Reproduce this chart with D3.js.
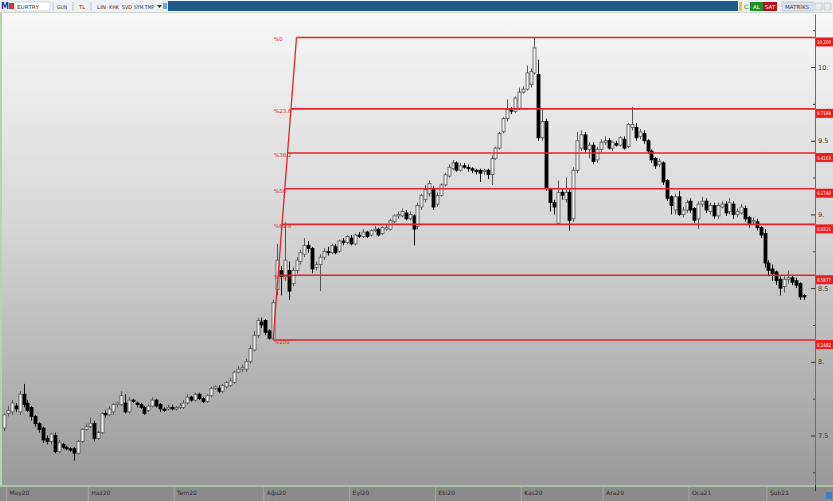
<!DOCTYPE html>
<html><head><meta charset="utf-8">
<script src="https://cdn.jsdelivr.net/npm/d3@7"></script>
<style>html,body{margin:0;padding:0;background:#fff;overflow:hidden}svg{display:block;font-family:"DejaVu Sans",sans-serif}</style>
</head><body><svg id="c" width="833" height="501"></svg>
<script>
const opens=[7.55,7.65,7.66,7.70,7.66,7.78,7.72,7.69,7.63,7.58,
7.55,7.48,7.46,7.50,7.39,7.44,7.42,7.41,7.41,7.38,
7.46,7.54,7.56,7.58,7.48,7.52,7.65,7.64,7.66,7.71,
7.71,7.72,7.66,7.74,7.72,7.71,7.69,7.67,7.70,7.74,
7.71,7.68,7.68,7.69,7.68,7.69,7.69,7.72,7.76,7.74,
7.78,7.75,7.73,7.77,7.82,7.82,7.80,7.83,7.84,7.86,
7.93,7.95,7.95,8.00,8.08,8.18,8.27,8.28,8.21,8.16,
8.49,8.62,8.58,8.62,8.53,8.62,8.68,8.73,8.79,8.77,
8.64,8.66,8.71,8.75,8.74,8.78,8.75,8.82,8.81,8.84,
8.80,8.86,8.85,8.88,8.86,8.89,8.90,8.87,8.90,8.90,
8.95,8.99,8.99,9.01,8.97,8.99,8.92,9.05,9.10,9.14,
9.17,9.07,9.13,9.20,9.26,9.31,9.35,9.30,9.33,9.32,
9.31,9.30,9.30,9.29,9.30,9.27,9.38,9.45,9.56,9.65,
9.71,9.70,9.72,9.83,9.85,9.88,9.96,9.95,9.52,9.63,
9.17,9.08,8.94,9.15,9.10,9.15,8.97,9.30,9.45,9.54,
9.44,9.47,9.37,9.44,9.49,9.50,9.45,9.48,9.47,9.51,
9.46,9.59,9.59,9.53,9.55,9.50,9.43,9.38,9.34,9.35,
9.23,9.12,9.03,9.12,9.00,9.03,9.09,9.04,8.97,9.07,
9.09,9.02,9.06,8.99,9.05,9.07,9.02,9.07,9.00,9.01,
9.04,8.98,8.95,8.95,8.91,8.87,8.67,8.63,8.61,8.56,
8.51,8.56,8.57,8.55,8.53,8.45];
const highs=[7.65,7.70,7.74,7.72,7.80,7.85,7.74,7.70,7.64,7.59,
7.56,7.50,7.52,7.52,7.47,7.45,7.43,7.42,7.42,7.47,
7.55,7.58,7.62,7.60,7.53,7.66,7.67,7.70,7.72,7.73,
7.80,7.78,7.76,7.75,7.73,7.72,7.70,7.71,7.76,7.75,
7.72,7.69,7.71,7.71,7.70,7.72,7.74,7.78,7.77,7.79,
7.79,7.76,7.78,7.83,7.84,7.84,7.85,7.87,7.89,7.94,
7.97,7.98,8.02,8.11,8.21,8.30,8.30,8.29,8.22,8.42,
8.80,8.65,8.95,8.68,8.64,8.71,8.76,8.84,8.82,8.78,
8.68,8.73,8.77,8.78,8.80,8.80,8.83,8.84,8.86,8.86,
8.87,8.88,8.90,8.89,8.90,8.92,8.91,8.92,8.93,8.97,
9.00,9.02,9.04,9.03,9.02,9.00,9.08,9.14,9.20,9.23,
9.19,9.15,9.21,9.28,9.34,9.37,9.36,9.35,9.35,9.34,
9.32,9.31,9.31,9.31,9.31,9.40,9.46,9.56,9.66,9.78,
9.73,9.80,9.86,9.87,10.01,9.99,10.20,10.05,9.71,9.65,
9.18,9.10,9.23,9.18,9.25,9.17,9.32,9.56,9.57,9.56,
9.49,9.49,9.46,9.51,9.53,9.52,9.50,9.50,9.53,9.53,
9.62,9.73,9.62,9.58,9.57,9.51,9.44,9.39,9.38,9.36,
9.24,9.13,9.14,9.16,9.05,9.10,9.11,9.05,9.09,9.12,
9.11,9.08,9.08,9.08,9.09,9.09,9.11,9.09,9.04,9.07,
9.06,8.99,8.98,8.97,8.92,8.90,8.69,8.66,8.62,8.58,
8.58,8.62,8.59,8.57,8.54,8.46];
const lows=[7.53,7.63,7.64,7.66,7.64,7.69,7.66,7.60,7.56,7.52,
7.45,7.44,7.44,7.38,7.38,7.41,7.40,7.39,7.33,7.37,
7.45,7.53,7.55,7.46,7.47,7.51,7.62,7.63,7.64,7.69,
7.70,7.65,7.65,7.72,7.69,7.68,7.64,7.66,7.69,7.69,
7.66,7.66,7.67,7.67,7.67,7.68,7.68,7.71,7.73,7.73,
7.74,7.72,7.72,7.76,7.81,7.79,7.79,7.82,7.83,7.85,
7.92,7.93,7.93,7.99,8.07,8.16,8.23,8.18,8.15,8.148,
8.45,8.45,8.55,8.42,8.51,8.60,8.66,8.71,8.74,8.60,
8.62,8.48,8.69,8.72,8.73,8.73,8.74,8.79,8.80,8.79,
8.79,8.84,8.84,8.84,8.85,8.88,8.85,8.86,8.89,8.89,
8.94,8.97,8.98,8.96,8.96,8.79,8.90,9.03,9.08,9.12,
9.03,9.05,9.12,9.19,9.25,9.30,9.29,9.29,9.31,9.29,
9.28,9.27,9.22,9.27,9.24,9.20,9.37,9.44,9.55,9.63,
9.68,9.69,9.71,9.82,9.84,9.86,9.95,9.50,9.50,9.16,
9.02,9.00,8.93,9.10,9.08,8.89,8.95,9.28,9.43,9.42,
9.38,9.34,9.35,9.42,9.47,9.44,9.43,9.46,9.46,9.44,
9.45,9.57,9.50,9.51,9.48,9.41,9.35,9.31,9.32,9.20,
9.09,9.00,9.00,8.99,8.98,9.01,9.01,8.94,8.90,9.05,
9.01,9.00,8.97,8.97,9.04,8.99,9.00,8.97,8.98,9.00,
8.95,8.91,8.93,8.89,8.84,8.64,8.58,8.55,8.52,8.45,
8.47,8.53,8.52,8.50,8.42,8.42];
const closes=[7.64,7.67,7.72,7.68,7.78,7.71,7.67,7.63,7.58,7.54,
7.47,7.46,7.51,7.39,7.45,7.42,7.41,7.40,7.38,7.46,
7.54,7.56,7.58,7.48,7.52,7.65,7.64,7.68,7.71,7.72,
7.77,7.66,7.74,7.73,7.71,7.69,7.65,7.70,7.74,7.70,
7.68,7.67,7.69,7.68,7.69,7.70,7.72,7.76,7.74,7.78,
7.75,7.73,7.77,7.82,7.83,7.80,7.84,7.86,7.87,7.93,
7.95,7.96,8.00,8.09,8.18,8.28,8.25,8.20,8.16,8.40,
8.69,8.58,8.69,8.48,8.62,8.69,8.74,8.79,8.77,8.63,
8.66,8.71,8.75,8.74,8.79,8.74,8.82,8.81,8.85,8.80,
8.86,8.85,8.88,8.85,8.89,8.90,8.86,8.91,8.91,8.96,
8.99,9.00,9.02,8.97,9.00,8.90,9.06,9.13,9.17,9.21,
9.05,9.13,9.20,9.27,9.32,9.35,9.30,9.33,9.32,9.31,
9.30,9.29,9.28,9.30,9.27,9.38,9.45,9.55,9.65,9.71,
9.70,9.79,9.83,9.85,9.96,9.97,10.13,9.52,9.63,9.18,
9.08,9.05,9.15,9.13,9.15,8.96,9.30,9.50,9.54,9.44,
9.47,9.36,9.44,9.49,9.50,9.45,9.49,9.47,9.52,9.45,
9.61,9.61,9.52,9.56,9.50,9.43,9.37,9.33,9.36,9.22,
9.11,9.06,9.12,9.00,9.03,9.08,9.03,8.96,9.07,9.09,
9.03,9.06,8.99,9.06,9.07,9.01,9.08,9.00,9.02,9.05,
8.97,8.94,8.96,8.91,8.86,8.67,8.62,8.60,8.55,8.50,
8.56,8.57,8.54,8.52,8.44,8.44];

const monthLabels=["May20","Haz20","Tem20","Ağu20","Eyl20","Eki20","Kas20","Ara20","Oca21","Şub21"];
const monthStarts=[1,22,44,67,89,111,133,154,176,196];
const yTicks=[7.5,8,8.5,9,9.5,10];
const yTickLabels=["7.5","8.","8.5","9.","9.5","10."];
const yMinorTicks=[7.25,7.75,8.25,8.75,9.25,9.75,10.25];
const fibHigh=10.2007, fibLow=8.1482;
const fibRatios=[0,23.6,38.2,50,61.8,78.6,100];
const fibLeftLabels=["%0","%23.6","%38.2","%50","%61.8","%78.6","%100"];
const fibRightLabels=["10.200","9.7184","9.4163","9.1740","8.9321","8.5877","8.1482"];
const fibStartIdx=69, fibEndIdx=75;

const W=833,H=501;
const svg=d3.select("#c");
const x=d3.scaleLinear().domain([0,205]).range([4,4+205*3.9]);
const y=d3.scaleLinear().domain([7.164,10.36]).range([485,14]);
const AX=815;

const defs=svg.append("defs");
const g1=defs.append("linearGradient").attr("id","bg").attr("gradientUnits","userSpaceOnUse")
  .attr("x1",0).attr("y1",13).attr("x2",0).attr("y2",486);
g1.append("stop").attr("offset",0).attr("stop-color","#f7f7f7");
g1.append("stop").attr("offset",0.45).attr("stop-color","#d6d6d6");
g1.append("stop").attr("offset",1).attr("stop-color","#999999");
defs.append("clipPath").attr("id","plot").append("rect").attr("x",2).attr("y",13).attr("width",AX-2).attr("height",473);

// background
svg.append("rect").attr("x",0).attr("y",13).attr("width",W).attr("height",474).attr("fill","url(#bg)");
svg.append("rect").attr("x",0).attr("y",13).attr("width",2).attr("height",474).attr("fill","#b5d2b3");

// candles
const data=opens.map((o,i)=>({i,o,h:highs[i],l:lows[i],c:closes[i]}));
const cg=svg.append("g").attr("clip-path","url(#plot)");
const cs=cg.selectAll("g.c").data(data).join("g");
cs.append("line").attr("x1",d=>Math.round(x(d.i))+0.5).attr("x2",d=>Math.round(x(d.i))+0.5)
  .attr("y1",d=>y(d.h)).attr("y2",d=>y(d.l))
  .attr("stroke",d=>d.c>=d.o?"#555":"#111").attr("stroke-width",1);
cs.append("rect").attr("x",d=>Math.round(x(d.i))-1)
  .attr("y",d=>y(Math.max(d.o,d.c)))
  .attr("width",3).attr("height",d=>Math.max(1,Math.abs(y(d.o)-y(d.c))))
  .attr("fill",d=>d.c>=d.o?"#f2f2f2":"#000")
  .attr("stroke",d=>d.c>=d.o?"#555":"#000").attr("stroke-width",0.8);

// fibonacci
const red="#e3242b";
const fg=svg.append("g");
const x0=x(fibStartIdx), y0=y(fibLow), x1=x(fibEndIdx), y1=y(fibHigh);
const levels=fibRatios.map((r,k)=>{const v=fibHigh-(fibHigh-fibLow)*r/100;const yy=y(v);
  const xs=x0+(x1-x0)*(y0-yy)/(y0-y1);return {v,yy,xs,k};});
fg.selectAll("line.lv").data(levels).join("line")
  .attr("x1",d=>d.xs).attr("x2",AX).attr("y1",d=>d.yy).attr("y2",d=>d.yy)
  .attr("stroke",red).attr("stroke-width",1.6);
fg.append("line").attr("x1",x0).attr("y1",y0).attr("x2",x1).attr("y2",y1).attr("stroke",red).attr("stroke-width",1.3);
fg.selectAll("text.ll").data(levels).join("text")
  .attr("x",x0+1).attr("y",d=>d.yy+2.5).attr("dominant-baseline","middle")
  .attr("font-size",5.5).attr("fill",red).text(d=>fibLeftLabels[d.k]);

// y axis
const ya=svg.append("g").attr("transform",`translate(${AX},0)`)
  .call(d3.axisRight(y).tickValues(yTicks).tickSizeInner(-4).tickSizeOuter(0).tickPadding(3)
  .tickFormat((d,i)=>yTickLabels[i]));
ya.select(".domain").attr("stroke","#6c6c6c");
ya.selectAll(".tick line").attr("stroke","#333");
ya.selectAll(".tick text").attr("font-size",6.5).attr("fill","#333").attr("font-family","DejaVu Sans");
const ym=svg.append("g").attr("transform",`translate(${AX},0)`)
  .call(d3.axisRight(y).tickValues(yMinorTicks).tickSizeInner(-2).tickSizeOuter(0).tickFormat(""));
ym.select(".domain").remove();
ym.selectAll(".tick line").attr("stroke","#444");

// right fib labels
const rl=svg.append("g").selectAll("g").data(levels).join("g");
rl.append("rect").attr("x",AX+1).attr("y",d=>d.yy).attr("width",W-AX-1).attr("height",9).attr("fill","#f01c1c");
rl.append("text").attr("x",AX+2).attr("y",d=>d.yy+6.6).attr("font-size",5).attr("fill","#fff")
  .attr("textLength",14).attr("lengthAdjust","spacingAndGlyphs").text(d=>fibRightLabels[d.k]);

// bottom bar / x axis
svg.append("rect").attr("x",0).attr("y",486).attr("width",W).attr("height",15).attr("fill","#8b8b8b");
svg.append("rect").attr("x",0).attr("y",485).attr("width",W).attr("height",2).attr("fill","#a9c4a8");
const xa=svg.append("g").attr("transform","translate(-2,487)")
  .call(d3.axisBottom(x).tickValues(monthStarts).tickSize(14).tickFormat((d,i)=>monthLabels[i]));
xa.select(".domain").remove();
xa.selectAll(".tick line").attr("stroke","#a6a6a6");
xa.selectAll(".tick text").attr("text-anchor","start").attr("x",3).attr("y",4).attr("dy","0.71em")
  .attr("font-size",6).attr("fill","#2c2c2c").attr("font-family","DejaVu Sans");
svg.append("line").attr("x1",AX+0.5).attr("x2",AX+0.5).attr("y1",485).attr("y2",491).attr("stroke","#333");
svg.append("rect").attr("x",826).attr("y",492).attr("width",6).attr("height",7).attr("fill","#3d7cc9");

// toolbar
const tb=svg.append("g");
tb.append("rect").attr("x",0).attr("y",0).attr("width",W).attr("height",13).attr("fill","#eef1f3");
tb.append("rect").attr("x",0).attr("y",12).attr("width",W).attr("height",1).attr("fill","#c9d6c9");
tb.append("rect").attr("x",168).attr("y",1).attr("width",570).attr("height",10).attr("fill","#1c5a8b");
tb.append("text").attr("x",1).attr("y",9).attr("font-size",8).attr("font-weight","bold").attr("fill","#1d3f8c").text("M");
tb.append("rect").attr("x",9).attr("y",3).attr("width",5).attr("height",6).attr("fill","#d33");
tb.append("rect").attr("x",15).attr("y",2).attr("width",35).attr("height",9).attr("fill","#fff").attr("stroke","#b9c2c9").attr("stroke-width",0.6);
const tbt=[["EURTRY",17,22],["GUN",57,10],["TL",79,6],["LIN",97,9],["KHK",109,10],["SVD",122,10],["SYM.TMP",134,20]];
tb.selectAll("text.t").data(tbt).join("text").attr("x",d=>d[1]).attr("y",9).attr("font-size",5.2).attr("fill","#333")
  .attr("textLength",d=>d[2]).attr("lengthAdjust","spacingAndGlyphs").text(d=>d[0]);
tb.append("path").attr("d","M157,5 L162,5 L159.5,8 Z").attr("fill","#333");
[53,73,91].forEach(v=>tb.append("line").attr("x1",v).attr("x2",v).attr("y1",2).attr("y2",11).attr("stroke","#c0c6cb"));
tb.append("rect").attr("x",163).attr("y",3).attr("width",4).attr("height",6).attr("fill","#6fa6dc");
tb.append("rect").attr("x",739).attr("y",2).attr("width",3).attr("height",9).attr("fill","#f1c232");
tb.append("text").attr("x",744).attr("y",9).attr("font-size",6).attr("fill","#2a7a2a").text("C");
tb.append("rect").attr("x",750).attr("y",2).attr("width",13).attr("height",9).attr("fill","#1f8f2a");
tb.append("text").attr("x",753).attr("y",9).attr("font-size",5.5).attr("fill","#fff").text("AL");
tb.append("rect").attr("x",763).attr("y",2).attr("width",14).attr("height",9).attr("fill","#b3121a");
tb.append("text").attr("x",765).attr("y",9).attr("font-size",5.5).attr("fill","#fff").text("SAT");
tb.append("rect").attr("x",782).attr("y",2).attr("width",31).attr("height",9).attr("fill","#dfe3e6").attr("stroke","#aab").attr("stroke-width",0.5);
tb.append("text").attr("x",785).attr("y",9).attr("font-size",5.5).attr("fill","#1d3f6c").text("MATRİKS");
tb.append("rect").attr("x",815).attr("y",3).attr("width",7).attr("height",7).attr("fill","#e8eaec").attr("stroke","#aab").attr("stroke-width",0.5);
tb.append("rect").attr("x",824).attr("y",3).attr("width",7).attr("height",7).attr("fill","#e8eaec").attr("stroke","#aab").attr("stroke-width",0.5);
</script></body></html>
